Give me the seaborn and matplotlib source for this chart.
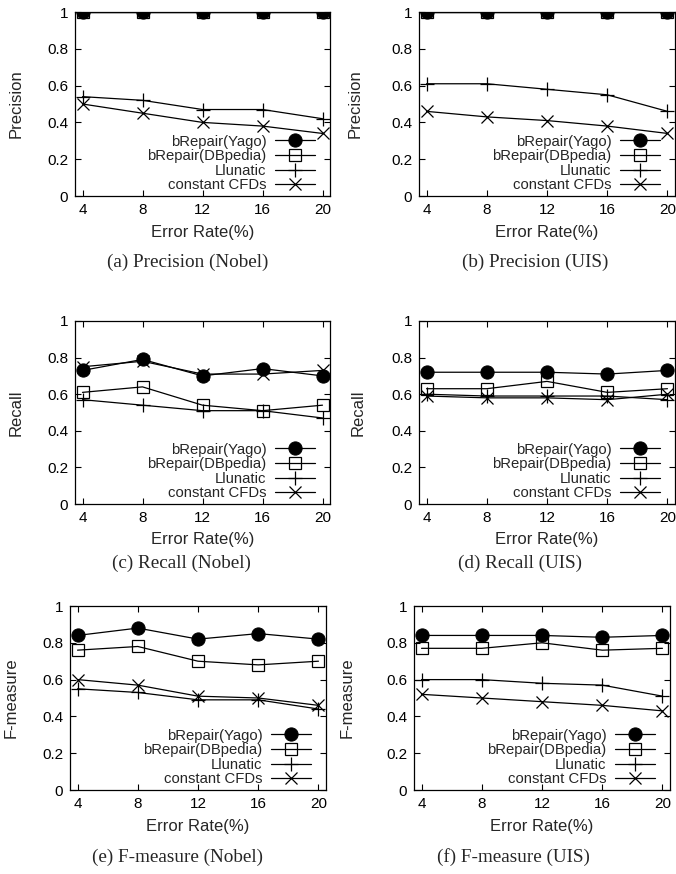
import matplotlib
matplotlib.use("Agg")
import matplotlib.pyplot as plt
import numpy as np
import pandas as pd
import seaborn as sns

error_rates = [4, 8, 12, 16, 20]
methods = ["bRepair(Yago)", "bRepair(DBpedia)", "Llunatic", "constant CFDs"]
y_ticks = [0, 0.2, 0.4, 0.6, 0.8, 1]
y_tick_labels = ["0", "0.2", "0.4", "0.6", "0.8", "1"]

# (a) Precision (Nobel)
prec_nobel_yago = [1.0, 1.0, 1.0, 1.0, 1.0]
prec_nobel_dbpedia = [1.0, 1.0, 1.0, 1.0, 1.0]
prec_nobel_llunatic = [0.54, 0.52, 0.47, 0.47, 0.42]
prec_nobel_cfds = [0.50, 0.45, 0.40, 0.38, 0.34]

# (b) Precision (UIS)
prec_uis_yago = [1.0, 1.0, 1.0, 1.0, 1.0]
prec_uis_dbpedia = [1.0, 1.0, 1.0, 1.0, 1.0]
prec_uis_llunatic = [0.61, 0.61, 0.58, 0.55, 0.46]
prec_uis_cfds = [0.46, 0.43, 0.41, 0.38, 0.34]

# (c) Recall (Nobel)
rec_nobel_yago = [0.73, 0.79, 0.70, 0.74, 0.70]
rec_nobel_dbpedia = [0.61, 0.64, 0.54, 0.51, 0.54]
rec_nobel_llunatic = [0.57, 0.54, 0.51, 0.51, 0.47]
rec_nobel_cfds = [0.75, 0.78, 0.71, 0.71, 0.73]

# (d) Recall (UIS)
rec_uis_yago = [0.72, 0.72, 0.72, 0.71, 0.73]
rec_uis_dbpedia = [0.63, 0.63, 0.67, 0.61, 0.63]
rec_uis_llunatic = [0.60, 0.59, 0.59, 0.59, 0.57]
rec_uis_cfds = [0.59, 0.58, 0.58, 0.57, 0.60]

# (e) F-measure (Nobel)
f_nobel_yago = [0.84, 0.88, 0.82, 0.85, 0.82]
f_nobel_dbpedia = [0.76, 0.78, 0.70, 0.68, 0.70]
f_nobel_llunatic = [0.55, 0.53, 0.49, 0.49, 0.44]
f_nobel_cfds = [0.60, 0.57, 0.51, 0.50, 0.46]

# (f) F-measure (UIS)
f_uis_yago = [0.84, 0.84, 0.84, 0.83, 0.84]
f_uis_dbpedia = [0.77, 0.77, 0.80, 0.76, 0.77]
f_uis_llunatic = [0.60, 0.60, 0.58, 0.57, 0.51]
f_uis_cfds = [0.52, 0.50, 0.48, 0.46, 0.43]

panels = [
    ("Precision", "(a) Precision (Nobel)",
     [prec_nobel_yago, prec_nobel_dbpedia, prec_nobel_llunatic, prec_nobel_cfds]),
    ("Precision", "(b) Precision (UIS)",
     [prec_uis_yago, prec_uis_dbpedia, prec_uis_llunatic, prec_uis_cfds]),
    ("Recall", "(c) Recall (Nobel)",
     [rec_nobel_yago, rec_nobel_dbpedia, rec_nobel_llunatic, rec_nobel_cfds]),
    ("Recall", "(d) Recall (UIS)",
     [rec_uis_yago, rec_uis_dbpedia, rec_uis_llunatic, rec_uis_cfds]),
    ("F-measure", "(e) F-measure (Nobel)",
     [f_nobel_yago, f_nobel_dbpedia, f_nobel_llunatic, f_nobel_cfds]),
    ("F-measure", "(f) F-measure (UIS)",
     [f_uis_yago, f_uis_dbpedia, f_uis_llunatic, f_uis_cfds]),
]

sns.set_style("ticks")
plt.rcParams["font.family"] = ["Liberation Sans", "DejaVu Sans"]

W, H = 676, 874
fig = plt.figure(figsize=(W / 100, H / 100), dpi=100)

# axes boxes in pixels: left, top, right, bottom
boxes = [
    (75, 12, 330, 196), (419, 12, 675, 196),
    (75, 321, 330, 504), (419, 321, 675, 504),
    (70, 606, 326, 790), (414, 606, 670, 790),
]
captions_pos = [(188, 262), (535, 262), (181, 563), (520, 563), (177, 857), (513, 857)]
ylabel_x = [-0.20, -0.22, -0.20, -0.21, -0.20, -0.23]

marker_styles = [
    dict(marker="o", markersize=9.5, markerfacecolor="black", markeredgecolor="black"),
    dict(marker="s", markersize=9, markerfacecolor="none", markeredgecolor="black", markeredgewidth=0.9),
    dict(marker="+", markersize=10, markeredgecolor="black", markeredgewidth=0.9),
    dict(marker="x", markersize=9, markeredgecolor="black", markeredgewidth=0.9),
]

for i, (ylab, cap, series) in enumerate(panels):
    l, t, r, b = boxes[i]
    ax = fig.add_axes([l / W, 1 - b / H, (r - l) / W, (b - t) / H])
    for name, vals, ms in zip(methods, series, marker_styles):
        df = pd.DataFrame({"rate": error_rates, "val": vals})
        sns.lineplot(data=df, x="rate", y="val", ax=ax, color="black",
                     linewidth=0.9, label=name, **ms)
    ax.set_xlim(3.5, 20.5)
    ax.set_ylim(0, 1)
    ax.set_xticks(error_rates)
    ax.set_yticks(y_ticks)
    ax.set_yticklabels(y_tick_labels)
    ax.tick_params(direction="in", length=4, width=0.8, labelsize=11,
                   top=True, right=True, colors="black", pad=5)
    for sp in ax.spines.values():
        sp.set_linewidth(0.9)
        sp.set_color("black")
    ax.set_xlabel("Error Rate(%)", fontsize=12)
    ax.set_ylabel(ylab, fontsize=12)
    ax.xaxis.set_label_coords(0.5, -0.155)
    ax.yaxis.set_label_coords(ylabel_x[i], 0.5)
    ax.legend(loc="lower right", bbox_to_anchor=(0.94, 0.02), frameon=False,
              markerfirst=False, fontsize=10.7, handlelength=2.7,
              handletextpad=0.55, labelspacing=0.04, borderpad=0,
              borderaxespad=0)
    fig.text(captions_pos[i][0] / W, 1 - captions_pos[i][1] / H, cap,
             ha="center", va="center", fontsize=13.8,
             family=["Liberation Serif", "DejaVu Serif"])

fig.savefig("out.png", dpi=100)
